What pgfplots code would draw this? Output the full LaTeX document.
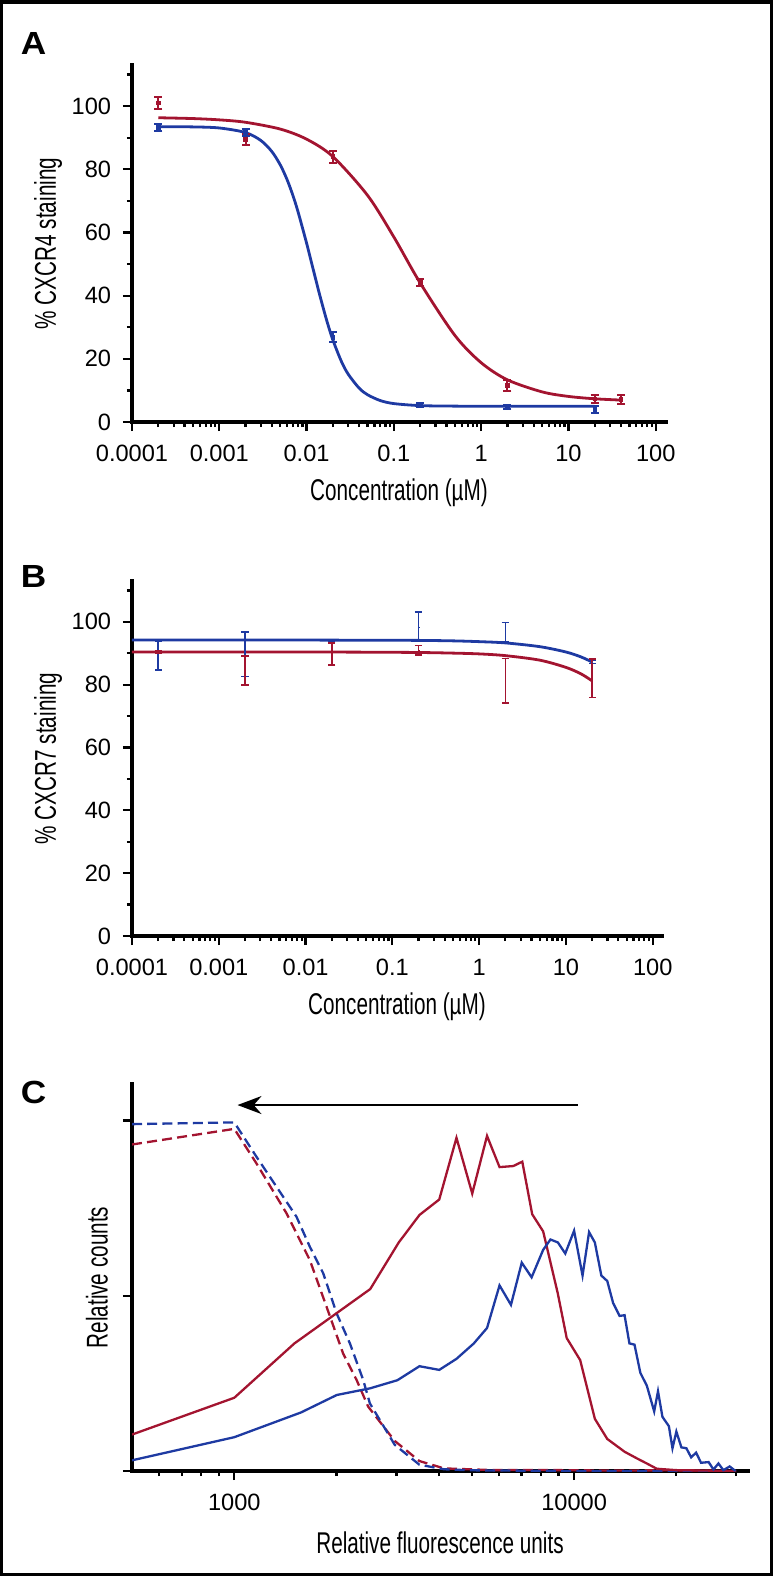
\documentclass[border=0pt]{standalone}
\usepackage{fontspec}
\setmainfont{Liberation Sans}
\newfontfamily\condfont{Liberation Sans}[FakeStretch=0.69]
\newfontfamily\letterfont{Liberation Sans}[FakeStretch=1.1]
\usepackage{pgfplots}
\pgfplotsset{compat=1.18}
\usetikzlibrary{arrows.meta}
\definecolor{cred}{RGB}{163,20,48}
\definecolor{cblue}{RGB}{30,58,162}
\newcommand\tlf{\fontsize{11.8}{14}\selectfont}
\newcommand\alf{\condfont\fontsize{15}{18}\selectfont}
\newcommand\plf{\letterfont\bfseries\fontsize{16}{18}\selectfont}
\pgfplotsset{
  panel/.style={
    scale only axis, anchor=south west,
    axis x line*=bottom, axis y line*=left,
    axis line style={line width=1.6pt, line cap=rect, black},
    tick style={line width=1.1pt, black},
    tick align=outside,
    major tick length=4.6pt, minor tick length=2.6pt,
  },
  concx/.style={
    xtick={1e-4,1e-3,0.01,0.1,1,10,100},
    xticklabels={0.0001,0.001,0.01,0.1,1,10,100},
    minor xtick={2e-4,3e-4,4e-4,5e-4,6e-4,7e-4,8e-4,9e-4,2e-3,3e-3,4e-3,5e-3,6e-3,7e-3,8e-3,9e-3,0.02,0.03,0.04,0.05,0.06,0.07,0.08,0.09,0.2,0.3,0.4,0.5,0.6,0.7,0.8,0.9,2,3,4,5,6,7,8,9,20,30,40,50,60,70,80,90},
    ymin=0, ymax=113,
    ytick={0,20,40,60,80,100},
    minor ytick={10,30,50,70,90,110},
  },
  ebA/.style={only marks, mark=square*, mark size=0.9pt, #1,
    error bars/y dir=both, error bars/y explicit,
    error bars/error bar style={line width=1pt, #1},
    error bars/error mark options={rotate=90, mark size=2pt, line width=1pt, #1}},
  ebB/.style={only marks, mark=square*, mark size=0.01pt, mark options={line width=0.01pt}, #1,
    error bars/y dir=both, error bars/y explicit,
    error bars/error bar style={line width=0.8pt, #1},
    error bars/error mark options={rotate=90, mark size=1.8pt, line width=0.8pt, #1}},
}
\begin{document}
\begin{tikzpicture}
\useasboundingbox (0,0) rectangle (386.5pt,-788pt);
\draw[line width=1.75pt] (0.875pt,-0.875pt) rectangle (385.625pt,-787.125pt);

% ---------------- Panel A ----------------
\begin{axis}[xmode=log, log basis x=10, xmin=1e-4, xmax=131, panel, concx,
  at={(66pt,-211pt)}, width=267pt, height=178.5pt,
  /pgf/number format/assume math mode=true,
  tick label style={font=\tlf},
  xticklabel style={anchor=base, yshift=-15.1pt},
  yticklabel style={anchor=east, inner sep=0pt, xshift=-5.65pt}]
\addplot[cred, line width=1.4pt, smooth, tension=0.5] coordinates {
(0.0002,96.31) (0.0005,96.05) (0.001,95.64) (0.002,94.87) (0.005,92.72) (0.01,89.53)
(0.02,84.02) (0.05,71.72) (0.1,58.55) (0.2,44.03) (0.5,27.41) (1,18.77) (2,13.34)
(5,9.53) (10,8.10) (20,7.35) (40,6.94)};
\addplot[cblue, line width=1.4pt, smooth, tension=0.5] coordinates {
(0.0002,93.49) (0.0005,93.41) (0.001,93.07) (0.002,91.62) (0.003,89.09) (0.004,85.61)
(0.005,81.37) (0.006,76.62) (0.007,71.58) (0.008,66.44) (0.01,56.62) (0.012,47.96)
(0.014,40.67) (0.017,32.17) (0.02,26.0) (0.025,19.24) (0.03,15.13) (0.04,10.73)
(0.05,8.62) (0.07,6.78) (0.1,5.83) (0.2,5.19) (0.5,5.03) (1,5.0) (5,5.0) (20,5.0)};
\addplot[ebA=cred] coordinates {
(0.0002,101) +- (0,2.0)
(0.002,89.5) +- (0,1.8)
(0.02,84) +- (0,1.9)
(0.2,44.2) +- (0,1.2)
(2,11.5) +- (0,1.8)
(20,7.3) +- (0,1.3)
(40,7.1) +- (0,1.4)};
\addplot[ebA=cblue] coordinates {
(0.0002,93.2) +- (0,1.1)
(0.002,91.6) +- (0,1.1)
(0.02,26.8) +- (0,1.6)
(0.2,5.4) +- (0,0.7)
(2,4.8) +- (0,0.6)
(20,3.9) +- (0,1.1)};
\end{axis}

% ---------------- Panel B ----------------
\begin{axis}[xmode=log, log basis x=10, xmin=1e-4, xmax=127.6, panel, concx,
  at={(66pt,-468pt)}, width=265pt, height=177.5pt,
  /pgf/number format/assume math mode=true,
  tick label style={font=\tlf},
  xticklabel style={anchor=base, yshift=-15.1pt},
  yticklabel style={anchor=east, inner sep=0pt, xshift=-5.65pt}]
\addplot[cred, line width=1.4pt, smooth, tension=0.5] coordinates {
(0.0001,90.4) (0.001,90.4) (0.01,90.4) (0.05,90.35) (0.2,90.25) (0.5,90.05) (1,89.8) (2,89.25)
(5,87.8) (10,85.5) (15,83.4) (20,81.2)};
\addplot[cblue, line width=1.4pt, smooth, tension=0.5] coordinates {
(0.0001,94.2) (0.001,94.2) (0.01,94.2) (0.05,94.15) (0.2,94.1) (0.5,93.95) (1,93.7) (2,93.3)
(5,92.1) (10,90.4) (15,88.8) (20,87.2)};
\addplot[ebB=cblue] coordinates {
(0.0002,89.3) +- (0,4.6)
(0.002,89.7) +- (0,7.1)
(0.02,94.0) +- (0,0.4)
(0.2,98.5) +- (0,4.7)
(2,96.8) +- (0,3.0)
(20,87.2) +- (0,0.5)};
\addplot[ebB=cred] coordinates {
(0.0002,90.5) +- (0,0.4)
(0.002,84.5) +- (0,4.6)
(0.02,89.8) +- (0,3.5)
(0.2,91.0) +- (0,1.5)
(2,81.2) +- (0,7.1)
(20,82.0) +- (0,6.1)};
\end{axis}

% ---------------- Panel C ----------------
\begin{axis}[xmode=log, log basis x=10, xmin=500, xmax=32500, panel,
  at={(66pt,-735.5pt)}, width=308pt, height=193.5pt,
  xtick={1000,10000}, xticklabels={1000,10000},
  minor xtick={600,700,800,900,2000,3000,4000,5000,6000,7000,8000,9000,20000,30000},
  ymin=0, ymax=220.8, ytick={0,100,200}, yticklabels={},
  tick label style={font=\tlf},
  xticklabel style={anchor=base, yshift=-15.1pt}]
\addplot[cred, line width=1.15pt, dash pattern=on 5pt off 2.6pt] coordinates {
(500,186.3) (1000,195.2) (1162,175.5) (1425,147.0) (1668,120.4) (1869,93.7) (2090,67.1)
(2291,51.9) (2478,36.7) (2965,17.2) (3506,5.7) (4142,1.5) (5790,0.5) (8000,0.6)
(12000,0.3) (20000,0.4) (30000,0)};
\addplot[cblue, line width=1.15pt, dash pattern=on 5pt off 2.6pt] coordinates {
(500,197.9) (1000,198.9) (1162,179.3) (1331,162.2) (1524,145.1) (1668,128.0) (1827,112.8)
(2000,90.0) (2189,72.8) (2396,51.9) (2506,38.6) (2965,15.0) (3506,3.6) (4142,1.0)
(5000,0.4) (7000,0.2) (10000,0) (30000,0)};
\addplot[cred, line width=1.15pt] coordinates {
(500,20.8) (1000,41.8) (1503,72.8) (2512,103.8) (3048,130.4) (3508,146.1) (4010,154.9)
(4507,190.1) (5015,158.3) (5544,191.2) (6034,173.4) (6625,174.0) (7040,176.5) (7530,146.5)
(8110,136.7) (8960,101.1) (9510,75.9) (10420,63.3) (11510,29.8) (12520,18.3) (14080,11.0)
(15310,7.2) (16370,4.3) (17510,1.3) (20000,0.5) (23660,0.3) (30000,0)};
\addplot[cblue, line width=1.15pt] coordinates {
(500,6.1) (1000,19.3) (1571,33.4) (2004,43.4) (2512,47.2) (3020,51.8) (3508,59.8) (4010,57.7)
(4507,64.0) (5069,72.8) (5544,81.6) (6034,105.9) (6520,94.8) (7015,118.9) (7500,110.5)
(8110,126.2) (8520,132.1) (8960,130.4) (9420,124.1) (10000,137.1) (10590,111.5) (11070,136.3)
(11510,130.4) (12030,111.5) (12520,108.4) (13030,95.8) (13610,88.5) (14080,88.9) (14550,72.8)
(15060,72.1) (15670,56.0) (16370,48.7) (17210,34.0) (17660,45.5) (18200,30.9) (19010,25.6)
(19480,13.0) (20000,22.5) (20690,13.5) (21400,13.0) (22110,7.8) (22860,10.5) (23640,4.7)
(24880,5.1) (25720,0.9) (26600,4.3) (27500,0.5) (28700,2.6) (29860,0)};
\draw[-{Stealth[length=12pt, width=9pt]}, line width=1pt] (axis cs:10240,208.8) -- (axis cs:1022,208.8);
\end{axis}

% ---------------- labels ----------------
\node[font=\plf] at (16.75pt,-21.5pt) {A};
\node[font=\plf] at (16.75pt,-288pt) {B};
\node[font=\plf] at (16.75pt,-546.4pt) {C};
\node[font=\alf, rotate=90] at (24pt,-121.75pt) {\% CXCR4 staining};
\node[font=\alf, anchor=base] at (199.5pt,-250pt) {Concentration (\textmu M)};
\node[font=\alf, rotate=90] at (24pt,-379.25pt) {\% CXCR7 staining};
\node[font=\alf, anchor=base] at (198.5pt,-507pt) {Concentration (\textmu M)};
\node[font=\alf, rotate=90] at (48.5pt,-638.75pt) {Relative counts};
\node[font=\alf, anchor=base] at (220pt,-776.5pt) {Relative fluorescence units};
\end{tikzpicture}
\end{document}
